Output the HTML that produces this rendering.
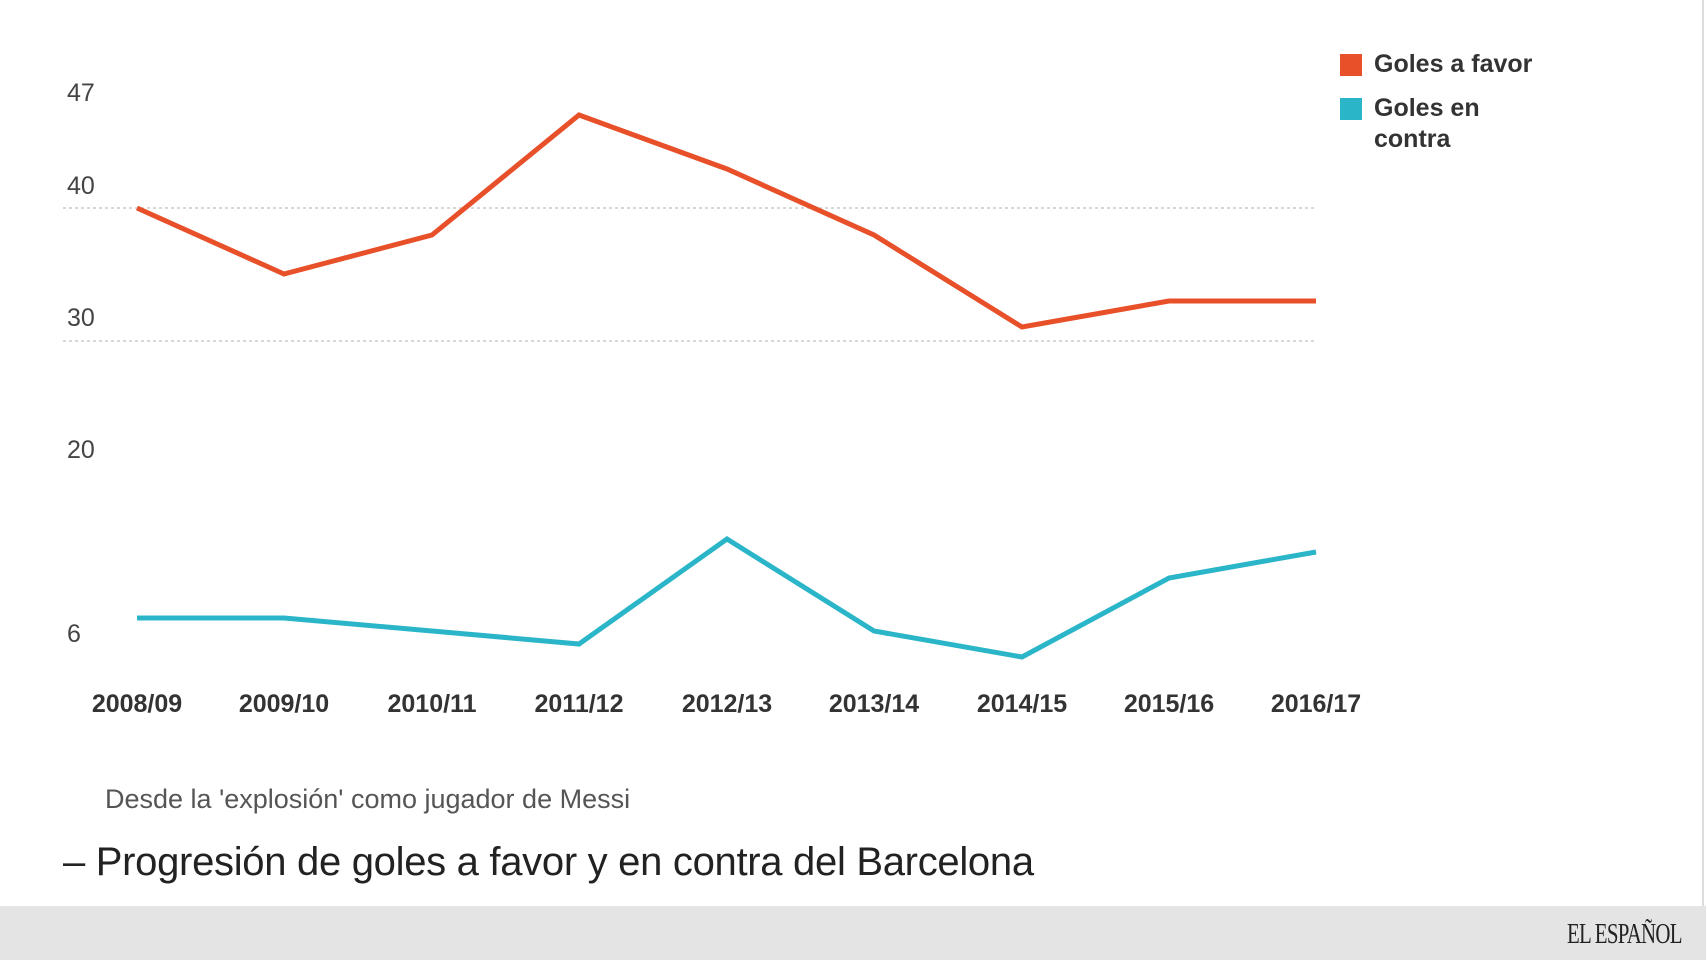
<!DOCTYPE html>
<html><head><meta charset="utf-8"><style>
body{margin:0;width:1706px;height:960px;background:#fff;overflow:hidden;position:relative;font-family:"Liberation Sans",sans-serif}
.t{position:absolute;white-space:nowrap}
</style></head><body>
<svg width="1706" height="960" style="position:absolute;left:0;top:0">
<line x1="63" y1="208" x2="1316" y2="208" stroke="#ccc" stroke-width="1.5" stroke-dasharray="3,3"/>
<line x1="63" y1="341" x2="1316" y2="341" stroke="#ccc" stroke-width="1.5" stroke-dasharray="3,3"/>
<polyline fill="none" stroke="#e8502a" stroke-width="5" points="137,208 284,274 432,235 579,115 727,169 874,235 1022,327 1169,301 1316,301"/>
<polyline fill="none" stroke="#2bb5c8" stroke-width="5" points="137,618 284,618 432,631 579,644 727,539 874,631 1022,657 1169,578 1316,552"/>
<g font-family="Liberation Sans, sans-serif" font-size="25" fill="#444">
<text x="67" y="101">47</text><text x="67" y="194">40</text><text x="67" y="326">30</text><text x="67" y="458">20</text><text x="67" y="642">6</text>
</g>
<g font-family="Liberation Sans, sans-serif" font-size="25" font-weight="bold" fill="#333" text-anchor="middle">
<text x="137" y="712">2008/09</text><text x="284" y="712">2009/10</text><text x="432" y="712">2010/11</text><text x="579" y="712">2011/12</text><text x="727" y="712">2012/13</text><text x="874" y="712">2013/14</text><text x="1022" y="712">2014/15</text><text x="1169" y="712">2015/16</text><text x="1316" y="712">2016/17</text>
</g>
<rect x="1340" y="54" width="22" height="22" fill="#e8502a"/>
<rect x="1340" y="98" width="22" height="22" fill="#2bb5c8"/>
<g font-family="Liberation Sans, sans-serif" font-size="25" font-weight="bold" fill="#333">
<text x="1374" y="72">Goles a favor</text><text x="1374" y="116">Goles en</text><text x="1374" y="147">contra</text>
</g>
<line x1="1703" y1="0" x2="1703" y2="906" stroke="#ddd" stroke-width="2"/>
</svg>
<div class="t" style="left:105px;top:784px;font-size:27px;color:#555">Desde la 'explosión' como jugador de Messi</div>
<div class="t" style="left:63px;top:840px;font-size:40px;color:#222;letter-spacing:-0.3px">– Progresión de goles a favor y en contra del Barcelona</div>
<div style="position:absolute;left:0;top:906px;width:1706px;height:54px;background:#e4e4e4"></div>
<div class="t" style="left:1567px;top:918px;font-family:'Liberation Serif',serif;font-size:29px;color:#222;letter-spacing:-1px;transform:scaleX(0.72);transform-origin:0 0">EL ESPAÑOL</div>
</body></html>
